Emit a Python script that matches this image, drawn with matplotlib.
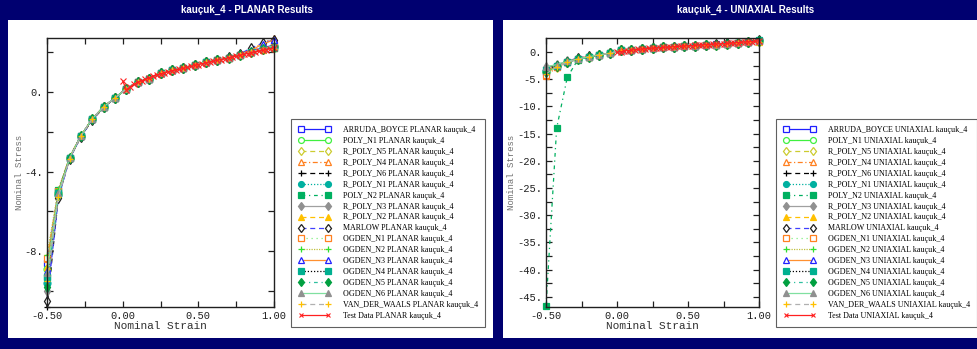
import matplotlib
matplotlib.use('Agg')
import matplotlib.pyplot as plt
from matplotlib.patches import Rectangle
from matplotlib.ticker import FixedLocator, FixedFormatter

# ---- data ----
model_names = ['ARRUDA_BOYCE', 'POLY_N1', 'R_POLY_N5', 'R_POLY_N4', 'R_POLY_N6',
               'R_POLY_N1', 'POLY_N2', 'R_POLY_N3', 'R_POLY_N2', 'MARLOW',
               'OGDEN_N1', 'OGDEN_N2', 'OGDEN_N3', 'OGDEN_N4', 'OGDEN_N5',
               'OGDEN_N6', 'VAN_DER_WAALS']

model_strain = [-0.5, -0.425, -0.35, -0.275, -0.2, -0.125, -0.05, 0.025, 0.1, 0.175, 0.25,
                0.325, 0.4, 0.475, 0.55, 0.625, 0.7, 0.775, 0.85, 0.925, 1.0]

planar_models = [
    [-8.6, -5.0, -3.3, -2.2, -1.35, -0.75, -0.3, 0.15, 0.5, 0.65, 0.95, 1.08, 1.18, 1.35, 1.5, 1.6, 1.72, 1.87, 2.05, 2.2, 2.35],
    [-8.9, -5.1, -3.3, -2.2, -1.35, -0.75, -0.3, 0.15, 0.5, 0.65, 0.95, 1.08, 1.18, 1.35, 1.5, 1.6, 1.72, 1.87, 2.02, 2.15, 2.3],
    [-9.2, -5.1, -3.3, -2.2, -1.35, -0.75, -0.3, 0.15, 0.5, 0.65, 0.95, 1.08, 1.18, 1.35, 1.5, 1.6, 1.72, 1.87, 2.02, 2.15, 2.25],
    [-8.4, -5.0, -3.25, -2.2, -1.35, -0.75, -0.3, 0.15, 0.5, 0.65, 0.95, 1.08, 1.2, 1.35, 1.5, 1.62, 1.75, 1.92, 2.1, 2.45, 2.7],
    [-10.8, -5.3, -3.35, -2.25, -1.4, -0.8, -0.3, 0.15, 0.5, 0.65, 0.95, 1.08, 1.18, 1.35, 1.5, 1.6, 1.72, 1.87, 2.02, 2.15, 2.3],
    [-9.6, -5.2, -3.3, -2.2, -1.35, -0.75, -0.3, 0.15, 0.5, 0.65, 0.95, 1.08, 1.18, 1.35, 1.5, 1.6, 1.72, 1.87, 2.02, 2.15, 2.25],
    [-9.3, -4.95, -3.3, -2.2, -1.35, -0.75, -0.3, 0.15, 0.5, 0.65, 0.95, 1.08, 1.18, 1.35, 1.5, 1.6, 1.72, 1.87, 2.02, 2.15, 2.2],
    [-10.0, -5.2, -3.3, -2.2, -1.35, -0.75, -0.3, 0.15, 0.5, 0.65, 0.95, 1.08, 1.18, 1.35, 1.5, 1.6, 1.72, 1.87, 2.02, 2.15, 2.3],
    [-8.8, -5.1, -3.3, -2.2, -1.35, -0.75, -0.3, 0.15, 0.5, 0.65, 0.95, 1.08, 1.18, 1.35, 1.5, 1.6, 1.72, 1.87, 2.02, 2.12, 2.2],
    [-10.5, -5.35, -3.35, -2.25, -1.4, -0.78, -0.3, 0.15, 0.5, 0.65, 0.95, 1.08, 1.2, 1.35, 1.5, 1.62, 1.75, 1.9, 2.2, 2.45, 2.6],
    [-8.35, -5.0, -3.3, -2.2, -1.35, -0.75, -0.3, 0.15, 0.5, 0.65, 0.95, 1.08, 1.18, 1.35, 1.5, 1.6, 1.72, 1.87, 2.02, 2.15, 2.25],
    [-8.2, -4.9, -3.25, -2.2, -1.35, -0.75, -0.3, 0.15, 0.5, 0.65, 0.95, 1.08, 1.18, 1.35, 1.5, 1.6, 1.72, 1.87, 2.02, 2.15, 2.3],
    [-9.0, -5.1, -3.3, -2.2, -1.35, -0.75, -0.3, 0.15, 0.5, 0.65, 0.95, 1.08, 1.2, 1.35, 1.5, 1.62, 1.75, 1.9, 2.08, 2.4, 2.6],
    [-9.3, -5.1, -3.3, -2.2, -1.35, -0.75, -0.3, 0.15, 0.5, 0.65, 0.95, 1.08, 1.18, 1.35, 1.5, 1.6, 1.72, 1.87, 2.02, 2.15, 2.2],
    [-9.8, -5.2, -3.3, -2.2, -1.35, -0.75, -0.3, 0.15, 0.5, 0.65, 0.95, 1.08, 1.18, 1.35, 1.5, 1.6, 1.72, 1.87, 2.02, 2.15, 2.25],
    [-9.1, -5.1, -3.3, -2.2, -1.35, -0.75, -0.3, 0.15, 0.5, 0.65, 0.95, 1.08, 1.18, 1.35, 1.5, 1.6, 1.72, 1.87, 2.02, 2.15, 2.3],
    [-9.5, -5.3, -3.35, -2.2, -1.35, -0.75, -0.3, 0.15, 0.5, 0.65, 0.95, 1.08, 1.18, 1.35, 1.5, 1.6, 1.72, 1.87, 2.02, 2.12, 2.15],
]

uniaxial_models = [
    [-3.6, -2.6, -1.8, -1.3, -0.85, -0.5, -0.2, 0.3, 0.45, 0.6, 0.75, 0.9, 1.0, 1.1, 1.2, 1.3, 1.45, 1.55, 1.7, 1.85, 2.1],
    [-3.7, -2.6, -1.8, -1.3, -0.85, -0.5, -0.2, 0.3, 0.45, 0.6, 0.75, 0.9, 1.0, 1.1, 1.2, 1.3, 1.4, 1.55, 1.7, 1.85, 2.1],
    [-3.9, -2.7, -1.85, -1.3, -0.85, -0.5, -0.2, 0.3, 0.45, 0.6, 0.75, 0.9, 1.0, 1.1, 1.2, 1.3, 1.4, 1.55, 1.7, 1.85, 2.0],
    [-4.4, -2.8, -1.9, -1.35, -0.85, -0.5, -0.2, 0.3, 0.45, 0.6, 0.75, 0.9, 1.0, 1.1, 1.2, 1.3, 1.4, 1.55, 1.7, 1.85, 2.1],
    [-3.8, -2.6, -1.8, -1.3, -0.85, -0.5, -0.2, 0.3, 0.45, 0.6, 0.75, 0.9, 1.0, 1.1, 1.2, 1.3, 1.4, 1.55, 1.7, 1.85, 2.1],
    [-3.5, -2.5, -1.8, -1.3, -0.85, -0.5, -0.2, 0.3, 0.45, 0.6, 0.75, 0.9, 1.0, 1.1, 1.2, 1.3, 1.4, 1.55, 1.7, 1.85, 2.3],
    [-46.8, -14.0, -4.6, -1.4, -0.85, -0.5, -0.2, 0.3, 0.45, 0.6, 0.75, 0.9, 1.0, 1.1, 1.2, 1.3, 1.4, 1.55, 1.7, 1.85, 2.1],
    [-2.8, -2.3, -1.7, -1.25, -0.85, -0.5, -0.2, 0.3, 0.45, 0.6, 0.75, 0.9, 1.0, 1.1, 1.2, 1.3, 1.4, 1.55, 1.7, 1.85, 2.1],
    [-3.7, -2.6, -1.8, -1.3, -0.85, -0.5, -0.2, 0.3, 0.45, 0.6, 0.75, 0.9, 1.0, 1.1, 1.2, 1.3, 1.4, 1.55, 1.7, 1.85, 1.95],
    [-3.3, -2.5, -1.75, -1.0, -0.8, -0.5, -0.2, 0.3, 0.45, 0.6, 0.75, 0.9, 1.0, 1.1, 1.2, 1.35, 1.5, 1.6, 1.75, 1.9, 2.2],
    [-4.3, -2.8, -1.9, -1.35, -0.85, -0.5, -0.2, 0.3, 0.45, 0.6, 0.75, 0.9, 1.0, 1.1, 1.2, 1.3, 1.4, 1.55, 1.7, 1.85, 2.0],
    [-3.9, -2.7, -1.85, -1.3, -0.85, -0.5, -0.2, 0.3, 0.45, 0.6, 0.75, 0.9, 1.0, 1.1, 1.2, 1.3, 1.4, 1.55, 1.7, 1.85, 2.1],
    [-3.4, -2.5, -1.8, -1.1, -0.8, -0.5, -0.2, 0.3, 0.45, 0.6, 0.75, 0.9, 1.0, 1.1, 1.2, 1.35, 1.5, 1.6, 1.75, 1.9, 2.2],
    [-3.2, -2.5, -1.75, -1.3, -0.85, -0.5, -0.2, 0.3, 0.45, 0.6, 0.75, 0.9, 1.0, 1.1, 1.2, 1.3, 1.4, 1.55, 1.7, 1.85, 2.3],
    [-3.6, -2.6, -1.8, -1.3, -0.85, -0.5, -0.2, 0.3, 0.45, 0.6, 0.75, 0.9, 1.0, 1.1, 1.2, 1.3, 1.4, 1.55, 1.7, 1.85, 2.1],
    [-2.7, -2.3, -1.7, -1.25, -0.85, -0.5, -0.2, 0.3, 0.45, 0.6, 0.75, 0.9, 1.0, 1.1, 1.2, 1.3, 1.4, 1.55, 1.7, 1.85, 2.1],
    [-4.0, -2.7, -1.85, -1.35, -0.85, -0.5, -0.2, 0.3, 0.45, 0.6, 0.75, 0.9, 1.0, 1.1, 1.2, 1.3, 1.4, 1.55, 1.7, 1.85, 1.95],
]

test_strain = [0.0, 0.025, 0.05, 0.075, 0.1, 0.125, 0.15, 0.175, 0.2, 0.225, 0.25, 0.275, 0.3, 0.325,
               0.35, 0.375, 0.4, 0.425, 0.45, 0.475, 0.5, 0.525, 0.55, 0.575, 0.6, 0.625, 0.65, 0.675,
               0.7, 0.725, 0.75, 0.775, 0.8, 0.825, 0.85, 0.875, 0.9, 0.925, 0.95, 0.975, 1.0]
planar_test = [0.55, 0.1, 0.25, 0.38, 0.48, 0.55, 0.62, 0.7, 0.78, 0.85, 0.9, 0.95, 1.0, 1.05,
               1.1, 1.13, 1.17, 1.22, 1.27, 1.32, 1.37, 1.41, 1.45, 1.5, 1.54, 1.58, 1.62, 1.66,
               1.7, 1.75, 1.79, 1.83, 1.88, 1.92, 1.96, 2.0, 2.04, 2.08, 2.12, 2.16, 2.2]
uniaxial_test = [0.0, 0.1, 0.2, 0.28, 0.36, 0.43, 0.5, 0.56, 0.62, 0.67, 0.72, 0.77, 0.82, 0.87,
                 0.92, 0.96, 1.0, 1.04, 1.08, 1.12, 1.16, 1.2, 1.24, 1.28, 1.32, 1.36, 1.4, 1.44,
                 1.48, 1.52, 1.56, 1.6, 1.65, 1.7, 1.75, 1.8, 1.85, 1.9, 1.95, 2.0, 2.05]

planar_yticks = [2, 0, -2, -4, -6, -8, -10]
planar_ylabels = ['', '0.', '', '-4.', '', '-8.', '']
uniaxial_yticks = [0, -2.5, -5, -7.5, -10, -12.5, -15, -17.5, -20, -22.5, -25, -27.5, -30,
                   -32.5, -35, -37.5, -40, -42.5, -45]
uniaxial_ylabels = ['0.', '', '-5.', '', '-10.', '', '-15.', '', '-20.', '', '-25.', '',
                    '-30.', '', '-35.', '', '-40.', '', '-45.']
xticks = [-0.5, -0.25, 0.0, 0.25, 0.5, 0.75, 1.0]
xlabels = ['-0.50', '', '0.00', '', '0.50', '', '1.00']

# (line colour, line style, marker, marker colour, filled)
styles = [
    ('#2020ff', '-', 's', '#2020ff', False),
    ('#40f040', '-', 'o', '#40f040', False),
    ('#cccc30', (0, (4, 3)), 'd', '#cccc30', False),
    ('#ff8020', (0, (4, 2, 1, 2)), '^', '#ff8020', False),
    ('#000000', (0, (4, 3)), '+', '#000000', False),
    ('#00b0a0', (0, (1, 1.5)), 'o', '#00b0a0', True),
    ('#00b060', (0, (3, 3, 1, 3)), 's', '#00b060', True),
    ('#a0a0a0', '-', 'd', '#909090', True),
    ('#ffc000', (0, (4, 3)), '^', '#ffc000', True),
    ('#4040ff', (0, (4, 3)), 'd', '#202020', False),
    ('#80f080', (0, (1, 3)), 's', '#ff8020', False),
    ('#c0c040', (0, (1, 1)), '+', '#30e030', False),
    ('#ff9030', '-', '^', '#2020ff', False),
    ('#000000', (0, (1, 1.5)), 's', '#00b090', True),
    ('#30c0a0', (0, (3, 3, 1, 3)), 'd', '#00a040', True),
    ('#80e0a0', '-', '^', '#909090', True),
    ('#b0b0b0', (0, (4, 3)), '+', '#ffc000', False),
]

navy = '#000070'
mono = 'Liberation Mono'

fig = plt.figure(figsize=(9.77, 3.49), dpi=100, facecolor=navy)
W, H = 977.0, 349.0


def fx(px):
    return px / W


def fy(py):
    return 1 - py / H


fig.patches.append(Rectangle((fx(8), fy(338)), fx(493) - fx(8), fy(20) - fy(338),
                             transform=fig.transFigure, facecolor='white', edgecolor='none', zorder=-10))
fig.patches.append(Rectangle((fx(503), fy(338)), fx(985) - fx(503), fy(20) - fy(338),
                             transform=fig.transFigure, facecolor='white', edgecolor='none', zorder=-10))

fig.text(fx(247), fy(10), 'kauçuk_4 - PLANAR Results', color='white', fontsize=7,
         fontweight='bold', family='Liberation Sans', ha='center', va='center')
fig.text(fx(746), fy(10), 'kauçuk_4 - UNIAXIAL Results', color='white', fontsize=7,
         fontweight='bold', family='Liberation Sans', ha='center', va='center')


def draw_panel(left_px, right_px, ymin, ymax, models, test, mode, yticks, ylabels, legend_x, ylabel_x):
    ax = fig.add_axes([fx(left_px), fy(307), fx(right_px) - fx(left_px), fy(38) - fy(307)])
    ax.set_facecolor('white')
    handles = []
    for name, vals, st in zip(model_names, models, styles):
        lc, ls, mk, mc, filled = st
        line, = ax.plot(model_strain, vals, color=lc, linestyle=ls, linewidth=0.9,
                        marker=mk, markersize=5, markeredgecolor=mc,
                        markerfacecolor=mc if filled else 'white', markeredgewidth=0.9,
                        clip_on=False, label=name + ' ' + mode + ' kauçuk_4')
        handles.append(line)
    line, = ax.plot(test_strain, test, color='#ff2020', linestyle='-', linewidth=0.9,
                    marker='x', markersize=4, markeredgewidth=0.8, clip_on=False,
                    label='Test Data ' + mode + ' kauçuk_4')
    handles.append(line)

    ax.set_xlim(-0.5, 1.0)
    ax.set_ylim(ymin, ymax)
    ax.xaxis.set_major_locator(FixedLocator(xticks))
    ax.xaxis.set_major_formatter(FixedFormatter(xlabels))
    ax.yaxis.set_major_locator(FixedLocator(yticks))
    ax.yaxis.set_major_formatter(FixedFormatter(ylabels))
    ax.tick_params(direction='in', length=4, width=0.9, top=True, right=True,
                   labelsize=7.5, pad=3, colors='#202020')
    for lab in ax.get_xticklabels() + ax.get_yticklabels():
        lab.set_family(mono)
    for sp in ax.spines.values():
        sp.set_linewidth(1.0)
        sp.set_color('#202020')
    ax.set_xlabel('Nominal Strain', family=mono, fontsize=8, labelpad=0, color='#303030')
    fig.text(fx(ylabel_x), fy(172), 'Nominal Stress', family=mono, fontsize=6.5, rotation=90,
             ha='center', va='center', color='#707070')

    leg = ax.legend(handles=handles, loc='upper left', bbox_to_anchor=(fx(legend_x), fy(119)),
                    bbox_transform=fig.transFigure, borderaxespad=0, frameon=True, fancybox=False,
                    edgecolor='#606060', framealpha=1, handlelength=4.0, numpoints=2,
                    handletextpad=1.5, labelspacing=0.36, borderpad=0.9, markerscale=0.85,
                    prop={'family': 'Liberation Serif', 'size': 5.8})
    leg.get_frame().set_linewidth(0.8)
    return ax


draw_panel(47, 274, -10.8, 2.7, planar_models, planar_test, 'PLANAR',
           planar_yticks, planar_ylabels, 291, 20)
draw_panel(546, 759, -46.9, 2.6, uniaxial_models, uniaxial_test, 'UNIAXIAL',
           uniaxial_yticks, uniaxial_ylabels, 776, 511)

fig.savefig('out.png', dpi=100, facecolor=navy)
